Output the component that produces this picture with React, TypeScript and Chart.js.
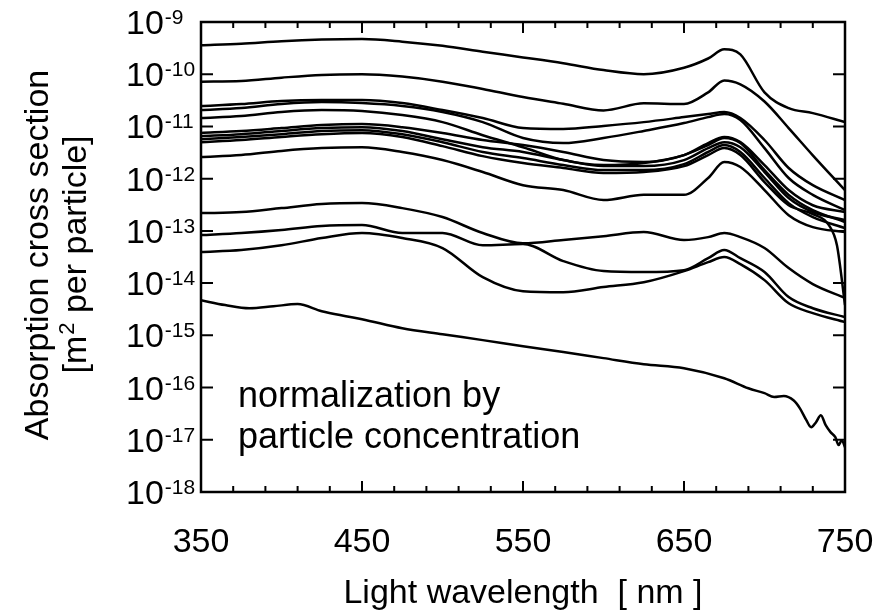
import { useEffect, useRef } from "react";
import { Chart, registerables } from "chart.js";

Chart.register(...registerables);

// ---------- data ----------
const wavelengths = [350, 375, 400, 425, 450, 475, 500, 525, 550, 575, 600, 625, 650, 665, 675, 685, 700, 715, 730, 750];

const curveA = [3.6e-10, 3.85e-10, 4.3e-10, 4.6e-10, 4.7e-10, 4.2e-10, 3.5e-10, 2.7e-10, 2.1e-10, 1.62e-10, 1.2e-10, 1.0e-10, 1.33e-10, 2.0e-10, 3.0e-10, 2.4e-10, 4.5e-11, 2.25e-11, 1.8e-11, 1.21e-11];
const curveB = [7.2e-11, 7.4e-11, 8.6e-11, 9.7e-11, 1.0e-10, 9.0e-11, 7.2e-11, 5.2e-11, 3.66e-11, 2.72e-11, 2.03e-11, 2.77e-11, 2.69e-11, 4.5e-11, 7.6e-11, 6.4e-11, 3.0e-11, 9.3e-12, 2.8e-12, 6.0e-13];
const curveC1 = [2.46e-11, 2.69e-11, 3.07e-11, 3.2e-11, 3.2e-11, 2.8e-11, 2.06e-11, 1.45e-11, 9.3e-12, 8.9e-12, 1.02e-11, 1.21e-11, 1.51e-11, 1.73e-11, 1.89e-11, 1.45e-11, 5.5e-12, 1.6e-12, 7.5e-13, 3.9e-13];
const curveC2 = [2.06e-11, 2.25e-11, 2.69e-11, 2.93e-11, 2.8e-11, 2.46e-11, 1.89e-11, 1.21e-11, 6.0e-12, 4.8e-12, 6.0e-12, 8.2e-12, 1.16e-11, 1.51e-11, 1.73e-11, 1.33e-11, 3.85e-12, 1.03e-12, 4.9e-13, 2.5e-13];
const curveC3 = [1.45e-11, 1.58e-11, 1.89e-11, 2.06e-11, 1.97e-11, 1.65e-11, 1.21e-11, 6.8e-12, 4.0e-12, 2.27e-12, 1.82e-12, 1.99e-12, 2.83e-12, 4.4e-12, 6.0e-12, 4.8e-12, 1.46e-12, 4.9e-13, 2.5e-13, 1.48e-13];
const curveD1 = [7.5e-12, 8.2e-12, 9.3e-12, 1.06e-11, 1.11e-11, 9.7e-12, 7.5e-12, 5.5e-12, 4.4e-12, 3.24e-12, 2.27e-12, 2.08e-12, 2.83e-12, 4.8e-12, 6.3e-12, 5.0e-12, 1.82e-12, 6.05e-13, 3.1e-13, 2.3e-13];
const curveD2 = [6.5e-12, 7.1e-12, 8.2e-12, 9.3e-12, 9.7e-12, 8.2e-12, 5.7e-12, 4.0e-12, 3.24e-12, 2.27e-12, 1.74e-12, 1.74e-12, 2.27e-12, 3.85e-12, 5.0e-12, 4.0e-12, 1.34e-12, 4.25e-13, 2.3e-13, 1.61e-13];
const curveD3 = [5.7e-12, 6.3e-12, 7.1e-12, 8.2e-12, 8.5e-12, 7.1e-12, 5.0e-12, 3.24e-12, 2.48e-12, 1.82e-12, 1.46e-12, 1.46e-12, 1.9e-12, 3.24e-12, 4.4e-12, 3.24e-12, 1.03e-12, 3.4e-13, 1.84e-13, 1.13e-13];
const curveE = [2.6e-12, 2.83e-12, 3.4e-12, 3.85e-12, 4.0e-12, 3.24e-12, 2.27e-12, 1.34e-12, 7.5e-13, 6.05e-13, 3.9e-13, 4.9e-13, 4.9e-13, 1.03e-12, 2.08e-12, 1.67e-12, 6.05e-13, 2.0e-13, 1.18e-13, 9.5e-14];
const curveL1 = [2.19e-13, 2.29e-13, 2.73e-13, 3.26e-13, 3.41e-13, 2.73e-13, 1.84e-13, 9.1e-14, 5.8e-14, 6.7e-14, 7.9e-14, 9.5e-14, 6.7e-14, 7.6e-14, 9.1e-14, 7.6e-14, 4.7e-14, 1.94e-14, 9.6e-15, 5.2e-15];
const curveL2 = [8.3e-14, 9.1e-14, 1.04e-13, 1.24e-13, 1.29e-13, 9.1e-14, 9.1e-14, 5.3e-14, 5.6e-14, 2.64e-14, 1.7e-14, 1.63e-14, 1.77e-14, 3.0e-14, 4.3e-14, 3.0e-14, 1.63e-14, 5.4e-15, 3.3e-15, 2.23e-15];
const curveL3 = [3.93e-14, 4.3e-14, 5.3e-14, 7.3e-14, 9.1e-14, 7.3e-14, 4.7e-14, 1.3e-14, 7.0e-15, 6.7e-15, 8.4e-15, 1.04e-14, 1.7e-14, 2.52e-14, 3.15e-14, 2.31e-14, 1.14e-14, 4.1e-15, 2.66e-15, 1.79e-15];

// curve that plunges at the red end
const curveD4Wavelengths = [350, 375, 400, 425, 450, 475, 500, 525, 550, 575, 600, 625, 650, 665, 675, 685, 700, 715, 730, 740, 745, 750];
const curveD4 = [5.0e-12, 5.5e-12, 6.3e-12, 7.1e-12, 7.5e-12, 6.3e-12, 4.2e-12, 2.7e-12, 1.99e-12, 1.6e-12, 1.28e-12, 1.34e-12, 1.74e-12, 2.83e-12, 3.85e-12, 2.83e-12, 8.6e-13, 3.1e-13, 2.1e-13, 1.29e-13, 5.3e-14, 3.8e-15];

// lowest (noisy) curve
const curveLowWavelengths = [350, 365, 380, 395, 410, 425, 440, 450, 475, 500, 525, 550, 575, 600, 625, 650, 675, 690, 700, 706, 712, 718, 722, 726, 729, 732, 735, 738, 741, 744, 746, 748, 750];
const curveLow = [4.7e-15, 3.8e-15, 3.3e-15, 3.6e-15, 3.96e-15, 2.9e-15, 2.33e-15, 2.04e-15, 1.37e-15, 1.05e-15, 8.1e-16, 6.2e-16, 4.8e-16, 3.66e-16, 2.8e-16, 2.35e-16, 1.51e-16, 9.7e-17, 7.8e-17, 6.6e-17, 6.9e-17, 5.7e-17, 4.0e-17, 2.37e-17, 1.74e-17, 2.17e-17, 2.96e-17, 1.9e-17, 1.4e-17, 1.12e-17, 7.9e-18, 9.8e-18, 7.2e-18];

// axes
const xTickValues = [350, 370, 390, 410, 430, 450, 470, 490, 510, 530, 550, 570, 590, 610, 630, 650, 670, 690, 710, 730, 750];
const xTickLabels = [350, 450, 550, 650, 750];
const yTickExponents = [-9, -10, -11, -12, -13, -14, -15, -16, -17, -18];
const xTitle = "Light wavelength  [ nm ]";
const yTitleLine1 = "Absorption cross section";
const yTitleLine2Parts = ["[m", "2", " per particle]"];
const noteLines = ["normalization by", "particle concentration"];

const FONT = '"Liberation Sans", Arial, Helvetica, sans-serif';

const decorPlugin = {
  id: "decor",
  afterDraw(chart: any) {
    const { ctx, chartArea: a, scales } = chart;
    const xs = scales.x;
    const ys = scales.y;
    ctx.save();
    ctx.strokeStyle = "#000";
    ctx.fillStyle = "#000";
    ctx.lineWidth = 2.5;
    ctx.strokeRect(a.left, a.top, a.right - a.left, a.bottom - a.top);

    ctx.lineWidth = 2;
    ctx.beginPath();
    for (const v of xTickValues) {
      const px = xs.getPixelForValue(v);
      const len = xTickLabels.includes(v) ? 11 : 6;
      ctx.moveTo(px, a.bottom);
      ctx.lineTo(px, a.bottom - len);
      ctx.moveTo(px, a.top);
      ctx.lineTo(px, a.top + len);
    }
    for (const e of yTickExponents) {
      const py = ys.getPixelForValue(Math.pow(10, e));
      ctx.moveTo(a.left, py);
      ctx.lineTo(a.left + 12, py);
      ctx.moveTo(a.right, py);
      ctx.lineTo(a.right - 12, py);
    }
    ctx.stroke();

    // x tick labels
    ctx.font = `34px ${FONT}`;
    ctx.textAlign = "center";
    ctx.textBaseline = "alphabetic";
    for (const v of xTickLabels) {
      ctx.fillText(String(v), xs.getPixelForValue(v), a.bottom + 60);
    }
    // x title
    ctx.fillText(xTitle, (a.left + a.right) / 2, a.bottom + 111);

    // y tick labels 10^n
    ctx.textAlign = "left";
    const labelLeft = a.left - 75;
    for (const e of yTickExponents) {
      const py = ys.getPixelForValue(Math.pow(10, e));
      ctx.font = `34px ${FONT}`;
      ctx.fillText("10", labelLeft, py + 12);
      const w = ctx.measureText("10").width;
      ctx.font = `21px ${FONT}`;
      ctx.fillText(String(e), labelLeft + w + 1, py + 2);
    }

    // y title (rotated)
    const cy = (a.top + a.bottom) / 2 - 2;
    ctx.save();
    ctx.translate(a.left - 153, cy);
    ctx.rotate(-Math.PI / 2);
    ctx.font = `34px ${FONT}`;
    ctx.textAlign = "center";
    ctx.fillText(yTitleLine1, 0, 0);
    ctx.restore();

    ctx.save();
    ctx.translate(a.left - 115, cy);
    ctx.rotate(-Math.PI / 2);
    ctx.textAlign = "left";
    ctx.font = `34px ${FONT}`;
    const w1 = ctx.measureText(yTitleLine2Parts[0]).width;
    const w3 = ctx.measureText(yTitleLine2Parts[2]).width;
    ctx.font = `22px ${FONT}`;
    const w2 = ctx.measureText(yTitleLine2Parts[1]).width;
    let x0 = -(w1 + w2 + w3) / 2;
    ctx.font = `34px ${FONT}`;
    ctx.fillText(yTitleLine2Parts[0], x0, 0);
    x0 += w1;
    ctx.font = `22px ${FONT}`;
    ctx.fillText(yTitleLine2Parts[1], x0 + 1, -12);
    x0 += w2 + 1;
    ctx.font = `34px ${FONT}`;
    ctx.fillText(yTitleLine2Parts[2], x0, 0);
    ctx.restore();

    // annotation
    ctx.font = `36px ${FONT}`;
    ctx.textAlign = "left";
    ctx.fillText(noteLines[0], a.left + 37, a.top + 385);
    ctx.fillText(noteLines[1], a.left + 37, a.top + 426);

    ctx.restore();
  },
};

function series(xs: number[], ys: number[]) {
  return {
    data: xs.map((x, i) => ({ x, y: ys[i] })),
    borderColor: "#000",
    backgroundColor: "#000",
    borderWidth: 2.5,
    pointRadius: 0,
    fill: false,
    cubicInterpolationMode: "monotone" as const,
  };
}

export default function App() {
  const canvasRef = useRef<HTMLCanvasElement | null>(null);

  useEffect(() => {
    if (!canvasRef.current) return;
    const datasets = [
      series(wavelengths, curveA),
      series(wavelengths, curveB),
      series(wavelengths, curveC1),
      series(wavelengths, curveC2),
      series(wavelengths, curveC3),
      series(wavelengths, curveD1),
      series(wavelengths, curveD2),
      series(wavelengths, curveD3),
      series(curveD4Wavelengths, curveD4),
      series(wavelengths, curveE),
      series(wavelengths, curveL1),
      series(wavelengths, curveL2),
      series(wavelengths, curveL3),
      series(curveLowWavelengths, curveLow),
    ];
    const chart = new Chart(canvasRef.current, {
      type: "line",
      data: { datasets },
      options: {
        responsive: false,
        maintainAspectRatio: false,
        animation: false,
        events: [],
        layout: { padding: { left: 201, top: 22, right: 46, bottom: 119 } },
        plugins: { legend: { display: false }, tooltip: { enabled: false } },
        scales: {
          x: { type: "linear", min: 350, max: 750, display: false },
          y: { type: "logarithmic", min: 1e-18, max: 1e-9, display: false },
        },
      },
      plugins: [decorPlugin],
    });
    return () => chart.destroy();
  }, []);

  return (
    <div style={{ position: "absolute", left: 0, top: 0, width: 891, height: 611, background: "#fff" }}>
      <canvas ref={canvasRef} width={891} height={611} style={{ display: "block" }} />
    </div>
  );
}
